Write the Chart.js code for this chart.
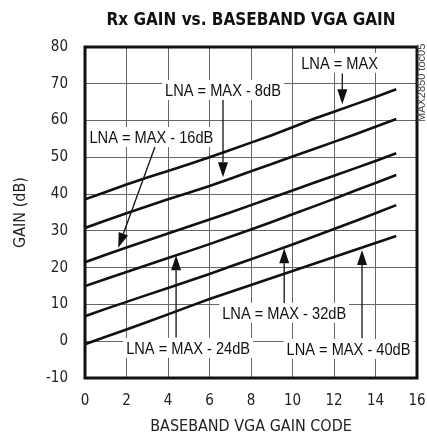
<!DOCTYPE html>
<html>
<head>
<meta charset="utf-8">
<script src="https://cdn.jsdelivr.net/npm/chart.js@4/dist/chart.umd.min.js"></script>
<style>
  html, body { margin: 0; padding: 0; background: #fff; }
  #wrap { width: 427px; height: 437px; }
</style>
</head>
<body>
<div id="wrap"><canvas id="gainChart" width="427" height="437"></canvas></div>
<script>
// baseband VGA gain code (x)
const gainCodes = [0, 1, 2, 3, 4, 5, 6, 7, 8, 9, 10, 11, 12, 13, 14, 15];

// Rx gain (dB) for each LNA setting
const lnaMax   = [38.6, 40.6, 42.6, 44.5, 46.3, 48.1, 50.0, 52.0, 54.0, 56.0, 58.2, 60.4, 62.4, 64.4, 66.4, 68.5];
const lnaMax8  = [30.8, 32.8, 34.8, 36.7, 38.6, 40.4, 42.2, 44.2, 46.2, 48.2, 50.2, 52.2, 54.2, 56.2, 58.3, 60.4];
const lnaMax16 = [21.5, 23.5, 25.5, 27.4, 29.3, 31.2, 33.1, 35.0, 37.0, 39.0, 41.0, 43.0, 45.0, 47.0, 49.0, 51.1];
const lnaMax24 = [15.0, 16.9, 18.8, 20.7, 22.6, 24.5, 26.4, 28.4, 30.4, 32.4, 34.5, 36.6, 38.7, 40.9, 43.0, 45.2];
const lnaMax32 = [6.8, 8.8, 10.7, 12.6, 14.5, 16.4, 18.3, 20.3, 22.3, 24.3, 26.3, 28.4, 30.5, 32.6, 34.8, 37.0];
const lnaMax40 = [-0.8, 1.2, 3.2, 5.2, 7.3, 9.4, 11.5, 13.4, 15.3, 17.2, 19.1, 21.0, 22.9, 24.8, 26.7, 28.6];

const seriesNames = ["LNA = MAX", "LNA = MAX - 8dB", "LNA = MAX - 16dB", "LNA = MAX - 24dB", "LNA = MAX - 32dB", "LNA = MAX - 40dB"];
const seriesValues = [lnaMax, lnaMax8, lnaMax16, lnaMax24, lnaMax32, lnaMax40];

// axis ranges
const xTicks = { min: 0, max: 16, step: 2 };
const yTicks = { min: -10, max: 80, step: 10 };

const condensed = "'DejaVu Sans Condensed', 'Liberation Sans Narrow', sans-serif";

// callout labels and arrows, in data units
const callouts = [
    { text: "LNA = MAX",        at: [12.27, 75.7], from: [12.4, 72.8], to: [12.4, 64.4] },
    { text: "LNA = MAX - 8dB",  at: [6.65, 68.3],  from: [6.65, 65.6], to: [6.65, 44.6] },
    { text: "LNA = MAX - 16dB", at: [3.2, 55.5],   from: [3.37, 52.8], to: [1.6, 25.4] },
    { text: "LNA = MAX - 24dB", at: [4.97, -1.8],  from: [4.39, 1.0],  to: [4.39, 23.4] },
    { text: "LNA = MAX - 32dB", at: [9.6, 7.7],    from: [9.6, 10.4],  to: [9.6, 25.3] },
    { text: "LNA = MAX - 40dB", at: [12.7, -2.1],  from: [13.35, 0.8], to: [13.35, 24.8] }
];

const drawArrow = (ctx, x1, y1, x2, y2) => {
    const ang = Math.atan2(y2 - y1, x2 - x1);
    const len = 15, half = 5;
    const bx = x2 - Math.cos(ang) * len;
    const by = y2 - Math.sin(ang) * len;
    ctx.beginPath();
    ctx.moveTo(x1, y1);
    ctx.lineTo(bx, by);
    ctx.lineWidth = 1.3;
    ctx.strokeStyle = "#111";
    ctx.stroke();
    ctx.beginPath();
    ctx.moveTo(x2, y2);
    ctx.lineTo(bx - Math.sin(ang) * half, by + Math.cos(ang) * half);
    ctx.lineTo(bx + Math.sin(ang) * half, by - Math.cos(ang) * half);
    ctx.closePath();
    ctx.fillStyle = "#111";
    ctx.fill();
};

const squeeze = 0.86;

const calloutPlugin = {
    id: "callouts",
    afterDatasetsDraw: (chart) => {
        const ctx = chart.ctx;
        const xs = chart.scales.x, ys = chart.scales.y;
        ctx.save();
        ctx.font = "17px 'Liberation Sans', Arial, sans-serif";
        ctx.textAlign = "center";
        ctx.textBaseline = "middle";
        callouts.forEach(c => {
            const cx = xs.getPixelForValue(c.at[0]);
            const cy = ys.getPixelForValue(c.at[1]);
            const w = ctx.measureText(c.text).width * squeeze;
            ctx.fillStyle = "#fff";
            ctx.fillRect(cx - w / 2 - 3, cy - 10, w + 6, 20);
            ctx.save();
            ctx.translate(cx, cy + 1);
            ctx.scale(squeeze, 1);
            ctx.fillStyle = "#111";
            ctx.fillText(c.text, 0, 0);
            ctx.restore();
            drawArrow(ctx,
                xs.getPixelForValue(c.from[0]), ys.getPixelForValue(c.from[1]),
                xs.getPixelForValue(c.to[0]), ys.getPixelForValue(c.to[1]));
        });
        ctx.restore();
    },
    afterDraw: (chart) => {
        const ctx = chart.ctx;
        const a = chart.chartArea;
        ctx.save();
        ctx.lineWidth = 3;
        ctx.strokeStyle = "#111";
        ctx.strokeRect(a.left, a.top, a.right - a.left, a.bottom - a.top);
        // figure tag on the right edge
        ctx.translate(a.right + 5, 122);
        ctx.rotate(-Math.PI / 2);
        ctx.font = "11px 'Liberation Sans', Arial, sans-serif";
        ctx.fillStyle = "#444";
        ctx.textAlign = "left";
        ctx.textBaseline = "middle";
        ctx.fillText("MAX2850 toc05", 0, 0);
        ctx.restore();
    }
};

new Chart(document.getElementById("gainChart"), {
    type: "line",
    data: {
        datasets: seriesValues.map((vals, i) => ({
            label: seriesNames[i],
            data: gainCodes.map((g, j) => ({ x: g, y: vals[j] })),
            borderColor: "#111",
            borderWidth: 2.6,
            pointRadius: 0,
            fill: false,
            tension: 0
        }))
    },
    options: {
        responsive: false,
        animation: false,
        devicePixelRatio: 1,
        layout: { padding: { left: 0, right: 10, top: 0, bottom: 0 } },
        plugins: {
            legend: { display: false },
            tooltip: { enabled: false },
            title: {
                display: true,
                fullSize: false,
                text: "Rx GAIN vs. BASEBAND VGA GAIN",
                color: "#111",
                font: { family: condensed, size: 17, weight: "bold", lineHeight: 1.2 },
                padding: { top: 10.5, bottom: 16.1 }
            }
        },
        scales: {
            x: {
                type: "linear",
                min: xTicks.min,
                max: xTicks.max,
                afterFit: (scale) => { scale.height = 59; },
                ticks: {
                    stepSize: xTicks.step,
                    padding: 0,
                    color: "#222",
                    font: { family: condensed, size: 15 }
                },
                grid: { color: "#666", lineWidth: 1, drawTicks: true, tickLength: 14, tickColor: "rgba(0,0,0,0)" },
                border: { display: false },
                title: {
                    display: true,
                    text: "BASEBAND VGA GAIN CODE",
                    color: "#222",
                    font: { family: condensed, size: 16 },
                    padding: { top: 1, bottom: 1 }
                }
            },
            y: {
                min: yTicks.min,
                max: yTicks.max,
                afterFit: (scale) => { scale.width = 85; },
                ticks: {
                    stepSize: yTicks.step,
                    padding: 17,
                    color: "#222",
                    font: { family: condensed, size: 15 }
                },
                grid: { color: "#666", lineWidth: 1, drawTicks: false },
                border: { display: false },
                title: {
                    display: true,
                    text: "GAIN (dB)",
                    color: "#222",
                    font: { family: condensed, size: 16 },
                    padding: { top: 11, bottom: 0 }
                }
            }
        }
    },
    plugins: [calloutPlugin]
});
</script>
</body>
</html>
